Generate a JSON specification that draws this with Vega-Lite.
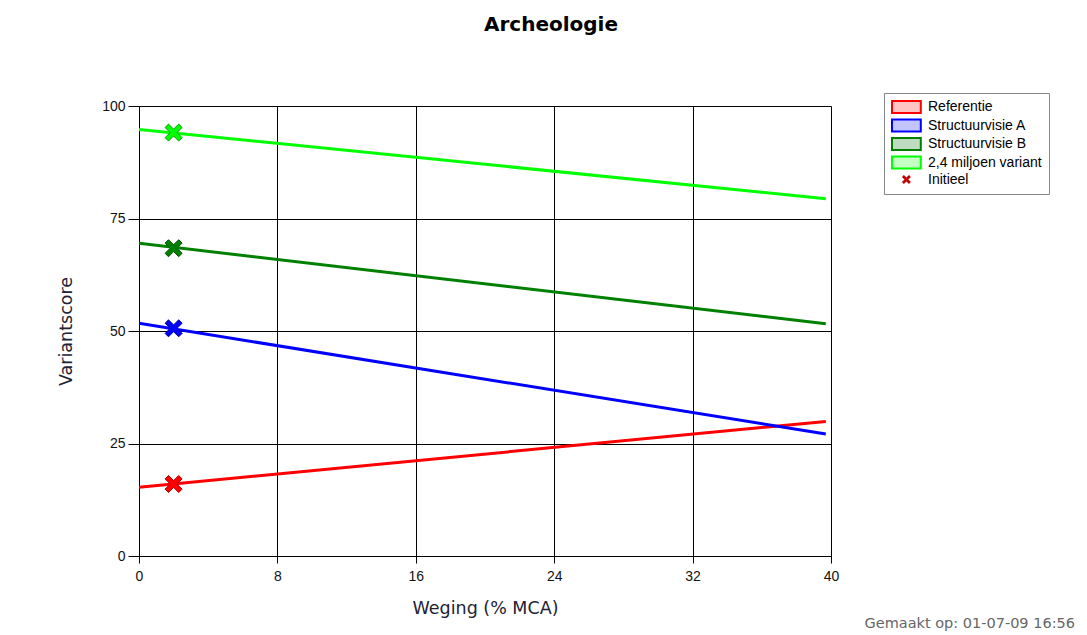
{
  "$schema": "https://vega.github.io/schema/vega-lite/v6.json",
  "width": 692,
  "height": 450,
  "autosize": "none",
  "padding": {"left": 139, "top": 106, "right": 256, "bottom": 79},
  "background": "white",
  "view": {"stroke": null},
  "title": {
    "text": "Archeologie",
    "font": "DejaVu Sans",
    "fontSize": 20,
    "fontWeight": "bold",
    "color": "#000000",
    "anchor": "middle",
    "frame": "group",
    "dx": 66,
    "offset": 58
  },
  "datasets": {
    "lines": [
      {"series": "Referentie", "x": 0, "y": 15.3},
      {"series": "Referentie", "x": 39.7, "y": 29.9},
      {"series": "Structuurvisie A", "x": 0, "y": 51.7},
      {"series": "Structuurvisie A", "x": 39.7, "y": 27.1},
      {"series": "Structuurvisie B", "x": 0, "y": 69.5},
      {"series": "Structuurvisie B", "x": 39.7, "y": 51.6},
      {"series": "2,4 miljoen variant", "x": 0, "y": 94.8},
      {"series": "2,4 miljoen variant", "x": 39.7, "y": 79.4}
    ],
    "markers": [
      {"series": "Referentie", "x": 2, "y": 16.0},
      {"series": "Structuurvisie A", "x": 2, "y": 50.6},
      {"series": "Structuurvisie B", "x": 2, "y": 68.4},
      {"series": "2,4 miljoen variant", "x": 2, "y": 94.1}
    ],
    "footer": [
      {"x": 40, "y": 0, "text": "Gemaakt op: 01-07-09 16:56"}
    ]
  },
  "layer": [
    {
      "data": {"name": "lines"},
      "mark": {"type": "line", "strokeWidth": 3, "clip": true},
      "encoding": {
        "x": {
          "field": "x", "type": "quantitative",
          "scale": {"domain": [0, 40], "nice": false, "zero": false},
          "axis": {
            "title": "Weging (% MCA)",
            "values": [0, 8, 16, 24, 32, 40],
            "labelFlush": false,
            "grid": true, "gridColor": "#000000", "gridOpacity": 1, "gridWidth": 1,
            "domainColor": "#000000", "tickColor": "#000000", "tickSize": 7,
            "labelPadding": 6, "labelFont": "Liberation Sans", "labelFontSize": 14, "labelColor": "#111111",
            "titleFont": "DejaVu Sans", "titleFontSize": 17.5, "titleFontWeight": "normal", "titleColor": "#222233",
            "titlePadding": 16
          }
        },
        "y": {
          "field": "y", "type": "quantitative",
          "scale": {"domain": [0, 100], "nice": false},
          "axis": {
            "title": "Variantscore",
            "values": [0, 25, 50, 75, 100],
            "labelFlush": false,
            "grid": true, "gridColor": "#000000", "gridOpacity": 1, "gridWidth": 1,
            "domainColor": "#000000", "tickColor": "#000000", "tickSize": 11,
            "labelPadding": 3, "labelFont": "Liberation Sans", "labelFontSize": 14, "labelColor": "#111111",
            "titleFont": "DejaVu Sans", "titleFontSize": 17.5, "titleFontWeight": "normal", "titleColor": "#222233",
            "titlePadding": 26
          }
        },
        "color": {
          "field": "series", "type": "nominal",
          "scale": {
            "domain": ["Referentie", "Structuurvisie A", "Structuurvisie B", "2,4 miljoen variant", "Initieel"],
            "range": ["#ff0000", "#0000ff", "#008000", "#00ff00", "#c00000"]
          },
          "legend": {
            "title": null,
            "orient": "none",
            "legendX": 745,
            "legendY": -13,
            "padding": 7,
            "fillColor": "#ffffff",
            "strokeColor": "#888888",
            "symbolSize": 144,
            "symbolType": "square",
            "symbolStrokeWidth": 2,
            "labelOffset": 23,
            "labelFont": "Liberation Sans",
            "labelFontSize": 14,
            "labelColor": "#000000",
            "rowPadding": -1.5,
            "encode": {
              "legend": {
                "update": {
                  "width": {"value": 168},
                  "height": {"value": 90}
                }
              },
              "symbols": {
                "update": {
                  "shape": {"signal": "datum.value === 'Initieel' ? 'M1.4,-1M1.4,1M0.7,-0.42L0.98,-0.7L1.4,-0.28L1.82,-0.7L2.1,-0.42L1.68,0L2.1,0.42L1.82,0.7L1.4,0.28L0.98,0.7L0.7,0.42L1.12,0Z' : 'M-1,-1H3.8V1H-1Z'"},
                  "fill": {"signal": "datum.value === 'Referentie' ? '#ffc4c4' : datum.value === 'Structuurvisie A' ? '#c4c4ff' : datum.value === 'Structuurvisie B' ? '#c0dcc0' : datum.value === '2,4 miljoen variant' ? '#c4ffc4' : '#c00000'"},
                  "fillOpacity": {"value": 1},
                  "strokeWidth": {"signal": "datum.value === 'Initieel' ? 0.5 : 2"},
                  "opacity": {"value": 1}
                }
              }
            }
          }
        }
      }
    },
    {
      "data": {"name": "markers"},
      "mark": {
        "type": "point",
        "filled": true,
        "opacity": 1,
        "size": 289,
        "strokeWidth": 1,
        "shape": "M-1,-0.6L-0.6,-1L0,-0.4L0.6,-1L1,-0.6L0.4,0L1,0.6L0.6,1L0,0.4L-0.6,1L-1,0.6L-0.4,0Z"
      },
      "encoding": {
        "x": {"field": "x", "type": "quantitative"},
        "y": {"field": "y", "type": "quantitative"},
        "fill": {
          "field": "series", "type": "nominal",
          "scale": {
            "domain": ["Referentie", "Structuurvisie A", "Structuurvisie B", "2,4 miljoen variant"],
            "range": ["#ff0000", "#0000ff", "#008000", "#00ff00"]
          },
          "legend": null
        },
        "stroke": {
          "field": "series", "type": "nominal",
          "scale": {
            "domain": ["Referentie", "Structuurvisie A", "Structuurvisie B", "2,4 miljoen variant"],
            "range": ["#b00000", "#0000a0", "#005000", "#00a000"]
          },
          "legend": null
        }
      }
    },
    {
      "data": {"name": "footer"},
      "mark": {
        "type": "text",
        "align": "right",
        "baseline": "middle",
        "dx": 244,
        "dy": 68,
        "font": "DejaVu Sans",
        "fontSize": 14.5,
        "color": "#666666",
        "clip": false
      },
      "encoding": {
        "x": {"field": "x", "type": "quantitative"},
        "y": {"field": "y", "type": "quantitative"},
        "text": {"field": "text"}
      }
    }
  ]
}
